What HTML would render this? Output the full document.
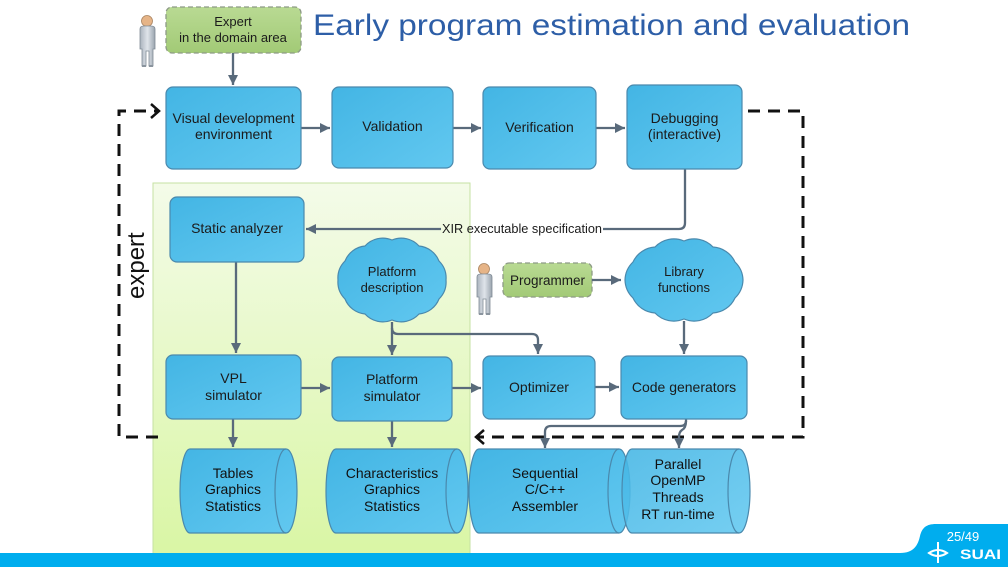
<!DOCTYPE html>
<html><head><meta charset="utf-8">
<style>
html,body{margin:0;padding:0;background:#fff;}
svg{display:block;}
text{font-family:"Liberation Sans",Arial,sans-serif;}
</style></head>
<body>
<svg width="1008" height="567" viewBox="0 0 1008 567" xmlns="http://www.w3.org/2000/svg">
<defs>
  <linearGradient id="bx" x1="0" y1="0" x2="1" y2="1">
    <stop offset="0" stop-color="#43b5e4"/>
    <stop offset="1" stop-color="#62c8f0"/>
  </linearGradient>
  <linearGradient id="gr" x1="0" y1="0" x2="0" y2="1">
    <stop offset="0" stop-color="#b9da93"/>
    <stop offset="1" stop-color="#a2ca76"/>
  </linearGradient>
  <linearGradient id="panel" x1="0" y1="0" x2="0" y2="1">
    <stop offset="0" stop-color="#f4fbe9"/>
    <stop offset="1" stop-color="#d9f6a4"/>
  </linearGradient>
  <linearGradient id="body" x1="0" y1="0" x2="1" y2="0">
    <stop offset="0" stop-color="#aab3bd"/>
    <stop offset="0.5" stop-color="#dfe4ea"/>
    <stop offset="1" stop-color="#9aa4ae"/>
  </linearGradient>
  <marker id="ah" markerUnits="userSpaceOnUse" markerWidth="12" markerHeight="12" refX="10" refY="5" orient="auto">
    <path d="M0,0 L10,5 L0,10 Z" fill="#596a7b"/>
  </marker>
  <g id="person">
    <circle cx="9" cy="6" r="5.5" fill="#e6b487" stroke="#a9835f" stroke-width="0.8"/>
    <path d="M2,14 Q2,11 6,11 H13 Q17,11 17,14 V34 H15 V51 H11 V36 H8 V51 H4 V34 H2 Z" fill="url(#body)" stroke="#7f8a95" stroke-width="0.8"/>
    <path d="M4,51 H8 M11,51 H15" stroke="#8a949e" stroke-width="2"/>
  </g>
</defs>

<!-- green panel -->
<rect x="153" y="183" width="317" height="375" fill="url(#panel)" stroke="#c6e1a3" stroke-width="1"/>

<!-- title -->
<text x="313" y="35" font-size="30" fill="#2d5ea7" textLength="597" lengthAdjust="spacingAndGlyphs">Early program estimation and evaluation</text>

<!-- persons -->
<use href="#person" x="138" y="15"/>
<use href="#person" x="475" y="263"/>

<!-- expert box -->
<rect x="166" y="7" width="135" height="46" rx="6" fill="url(#gr)" stroke="#8d9a86" stroke-width="1.3" stroke-dasharray="5,3"/>
<text x="233" y="26" font-size="13" text-anchor="middle" fill="#1b1b1b">Expert</text>
<text x="233" y="42" font-size="13" text-anchor="middle" fill="#1b1b1b">in the domain area</text>

<!-- programmer box -->
<rect x="503" y="263" width="89" height="34" rx="6" fill="url(#gr)" stroke="#8d9a86" stroke-width="1.3" stroke-dasharray="5,3"/>
<text x="547.5" y="285" font-size="13.5" text-anchor="middle" fill="#1b1b1b">Programmer</text>

<!-- dashed feedback lines -->
<g fill="none" stroke="#111" stroke-width="3">
  <path d="M158,437 H119 V111 H158" stroke-dasharray="12,8"/>
  <path d="M151,104 L159,111 L151,118" stroke-width="2.5"/>
  <path d="M748,111 H803 V437 H478" stroke-dasharray="12,8"/>
  <path d="M484,430 L476,437 L484,444" stroke-width="2.5"/>
</g>

<text transform="translate(144,299) rotate(-90)" font-size="24" fill="#111">expert</text>

<!-- connectors -->
<g fill="none" stroke="#596a7b" stroke-width="2.3">
  <path d="M233,53 V85" marker-end="url(#ah)"/>
  <path d="M301,128 H330" marker-end="url(#ah)"/>
  <path d="M453,128 H481" marker-end="url(#ah)"/>
  <path d="M596,128 H625" marker-end="url(#ah)"/>
  <path d="M685,169 V223 Q685,229 679,229 H603"/>
  <path d="M441,229 H306" marker-end="url(#ah)"/>
  <path d="M236,262 V353" marker-end="url(#ah)"/>
  <path d="M392,322 V355" marker-end="url(#ah)"/>
  <path d="M392,328 Q392,334 398,334 H532 Q538,334 538,340 V354" marker-end="url(#ah)"/>
  <path d="M592,280 H621" marker-end="url(#ah)"/>
  <path d="M684,321 V354" marker-end="url(#ah)"/>
  <path d="M301,388 H330" marker-end="url(#ah)"/>
  <path d="M452,388 H481" marker-end="url(#ah)"/>
  <path d="M595,387 H619" marker-end="url(#ah)"/>
  <path d="M233,419 V447" marker-end="url(#ah)"/>
  <path d="M392,421 V447" marker-end="url(#ah)"/>
  <path d="M686,419 V421 Q686,426 680,426 H551 Q545,426 545,432 V448" marker-end="url(#ah)"/>
  <path d="M686,421 Q686,428 682,430 Q679,432 679,437 V448" marker-end="url(#ah)"/>
</g>
<text x="522" y="233" font-size="12.5" text-anchor="middle" fill="#1b1b1b" textLength="160" lengthAdjust="spacingAndGlyphs">XIR executable specification</text>

<!-- blue boxes -->
<g stroke="#4a89ad" stroke-width="1.2" fill="url(#bx)">
  <rect x="166" y="87" width="135" height="82" rx="7"/>
  <rect x="332" y="87" width="121" height="81" rx="7"/>
  <rect x="483" y="87" width="113" height="82" rx="7"/>
  <rect x="627" y="85" width="115" height="84" rx="7"/>
  <rect x="170" y="197" width="134" height="65" rx="7"/>
  <rect x="166" y="355" width="135" height="64" rx="7"/>
  <rect x="332" y="357" width="120" height="64" rx="7"/>
  <rect x="483" y="356" width="112" height="63" rx="7"/>
  <rect x="621" y="356" width="126" height="63" rx="7"/>
</g>

<!-- clouds (smoother bumps) -->
<g stroke="#4a89ad" stroke-width="1.2" fill="url(#bx)">
  <path d="M446,280 A24,24 0 0 1 439,299 A24,24 0 0 1 419,314 A24,24 0 0 1 392,320 A24,24 0 0 1 365,314 A24,24 0 0 1 345,299 A24,24 0 0 1 338,280 A24,24 0 0 1 345,261 A24,24 0 0 1 365,246 A24,24 0 0 1 392,240 A24,24 0 0 1 419,246 A24,24 0 0 1 439,261 A24,24 0 0 1 446,280 Z"/>
  <path d="M743,280 A26,26 0 0 1 735,298 A26,26 0 0 1 713,313 A26,26 0 0 1 684,319 A26,26 0 0 1 655,313 A26,26 0 0 1 633,298 A26,26 0 0 1 625,280 A26,26 0 0 1 633,262 A26,26 0 0 1 655,247 A26,26 0 0 1 684,241 A26,26 0 0 1 713,247 A26,26 0 0 1 735,262 A26,26 0 0 1 743,280 Z"/>
</g>

<!-- cylinders -->
<g stroke="#4a89ad" stroke-width="1.2" fill="url(#bx)">
  <path d="M190,449 H286 A11,42 0 0 1 286,533 H190 A10,42 0 0 1 190,449 Z"/>
  <path d="M286,449 A11,42 0 0 0 286,533" fill="none"/>
  <path d="M336,449 H457 A11,42 0 0 1 457,533 H336 A10,42 0 0 1 336,449 Z"/>
  <path d="M457,449 A11,42 0 0 0 457,533" fill="none"/>
  <path d="M479,449 H619 A11,42 0 0 1 619,533 H479 A10,42 0 0 1 479,449 Z"/>
  <path d="M619,449 A11,42 0 0 0 619,533" fill="none"/>
  <path d="M632,449 H739 A11,42 0 0 1 739,533 H632 A10,42 0 0 1 632,449 Z" fill-opacity="0.88"/>
  <path d="M739,449 A11,42 0 0 0 739,533" fill="none"/>
</g>

<!-- box labels -->
<g font-size="14" text-anchor="middle" fill="#1b1b1b">
  <text x="233.5" y="123">Visual development</text>
  <text x="233.5" y="139">environment</text>
  <text x="392.5" y="131">Validation</text>
  <text x="539.5" y="132">Verification</text>
  <text x="684.5" y="123">Debugging</text>
  <text x="684.5" y="139">(interactive)</text>
  <text x="237" y="233">Static analyzer</text>
  <text x="392" y="276" font-size="13">Platform</text>
  <text x="392" y="292" font-size="13">description</text>
  <text x="684" y="276" font-size="13">Library</text>
  <text x="684" y="292" font-size="13">functions</text>
  <text x="233.5" y="383">VPL</text>
  <text x="233.5" y="400">simulator</text>
  <text x="392" y="384">Platform</text>
  <text x="392" y="401">simulator</text>
  <text x="539" y="392">Optimizer</text>
  <text x="684" y="392">Code generators</text>
</g>
<g font-size="14" text-anchor="middle" fill="#111">
  <text x="233" y="478">Tables</text>
  <text x="233" y="494">Graphics</text>
  <text x="233" y="511">Statistics</text>
  <text x="392" y="478">Characteristics</text>
  <text x="392" y="494">Graphics</text>
  <text x="392" y="511">Statistics</text>
  <text x="545" y="478">Sequential</text>
  <text x="545" y="494">C/C++</text>
  <text x="545" y="511">Assembler</text>
  <text x="678" y="469">Parallel</text>
  <text x="678" y="485">OpenMP</text>
  <text x="678" y="502">Threads</text>
  <text x="678" y="519">RT run-time</text>
</g>

<!-- footer -->
<rect x="0" y="553" width="1008" height="14" fill="#00adee"/>
<path d="M900,553 C914,553 918,545 920,536 C922,528 926,524 936,524 H1008 V567 H900 Z" fill="#00adee"/>
<text x="963" y="541" font-size="13" text-anchor="middle" fill="#fff">25/49</text>
<g stroke="#fff" stroke-width="2" fill="none">
  <path d="M938,542 V563"/>
  <path d="M929,553 Q938,547 947,553 Q938,559 929,553 Z"/>
</g>
<text x="960" y="559" font-size="14" font-weight="bold" fill="#fff" textLength="41" lengthAdjust="spacingAndGlyphs">SUAI</text>
</svg>
</body></html>
